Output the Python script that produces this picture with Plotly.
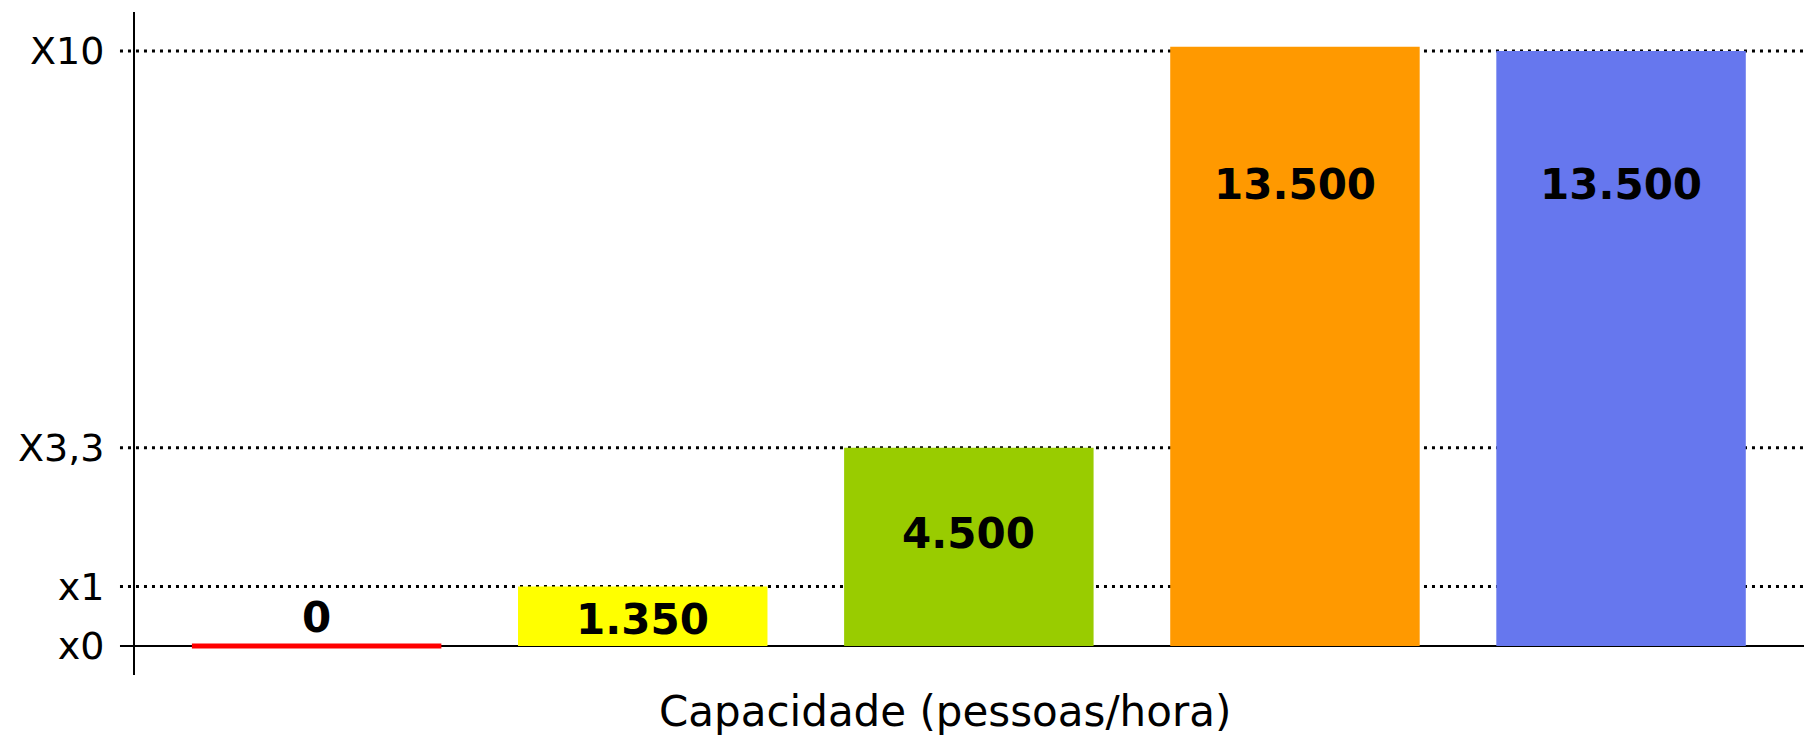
import plotly.graph_objects as go

# ---- data ----
categories = ["c1", "c2", "c3", "c4", "c5"]
values = [0, 1350, 4500, 13600, 13500]
value_labels = ["0", "1.350", "4.500", "13.500", "13.500"]
label_y = [650, 610, 2560, 10480, 10480]
bar_colors = ["#FF0000", "#FFFF00", "#99CC00", "#FF9900", "#6677EE"]
tick_values = [0, 1350, 4500, 13500]
tick_labels = ["x0", "x1", "X3,3", "X10"]
x_title = "Capacidade (pessoas/hora)"

FONT = "DejaVu Sans, Verdana, sans-serif"

fig = go.Figure()
fig.add_trace(go.Bar(
    x=categories,
    y=values,
    width=0.765,
    marker=dict(
        color=bar_colors,
        line=dict(color=bar_colors, width=[5 if v == 0 else 0 for v in values]),
    ),
    hoverinfo="skip",
    showlegend=False,
))

# value labels
for c, ly, t in zip(categories, label_y, value_labels):
    fig.add_annotation(
        x=c, y=ly, xref="x", yref="y", text=f"<b>{t}</b>",
        showarrow=False, font=dict(family=FONT, size=42, color="black"),
        xanchor="center", yanchor="middle",
    )

# dotted gridlines (extend left over tick area) and solid baseline
shapes = []
for tv in tick_values:
    if tv == 0:
        shapes.append(dict(type="line", xref="paper", yref="y", x0=-0.009, x1=1,
                           y0=tv, y1=tv, line=dict(color="black", width=2),
                           layer="below"))
    else:
        shapes.append(dict(type="line", xref="paper", yref="y", x0=-0.009, x1=1,
                           y0=tv, y1=tv,
                           line=dict(color="black", width=3, dash="3px,5px"),
                           layer="below"))

fig.add_annotation(
    x=0.4855, y=0, xref="paper", yref="paper", text=x_title,
    showarrow=False, font=dict(family=FONT, size=42, color="black"),
    xanchor="center", yanchor="middle", yshift=-36, borderpad=0,
)

fig.update_layout(
    width=1804, height=735,
    margin=dict(l=135, r=0, t=12, b=60, pad=0, autoexpand=False),
    paper_bgcolor="white", plot_bgcolor="white",
    shapes=shapes,
    font=dict(family=FONT, color="black"),
    xaxis=dict(
        range=[-0.557, 4.561], showticklabels=False, showgrid=False,
        zeroline=False, showline=False, ticks="", fixedrange=True,
        automargin=False,
    ),
    yaxis=dict(
        range=[-658, 14387], tickmode="array", tickvals=tick_values,
        ticktext=tick_labels, tickfont=dict(family=FONT, size=38, color="black"),
        showgrid=False, zeroline=False, showline=True, linecolor="black",
        linewidth=2, ticks="", ticklabelstandoff=21, fixedrange=True,
        automargin=False,
    ),
)

fig.write_html(
    "out.html",
    config={"displayModeBar": False, "staticPlot": True},
    post_script="document.body.style.margin='0';document.body.style.overflow='hidden';",
)
